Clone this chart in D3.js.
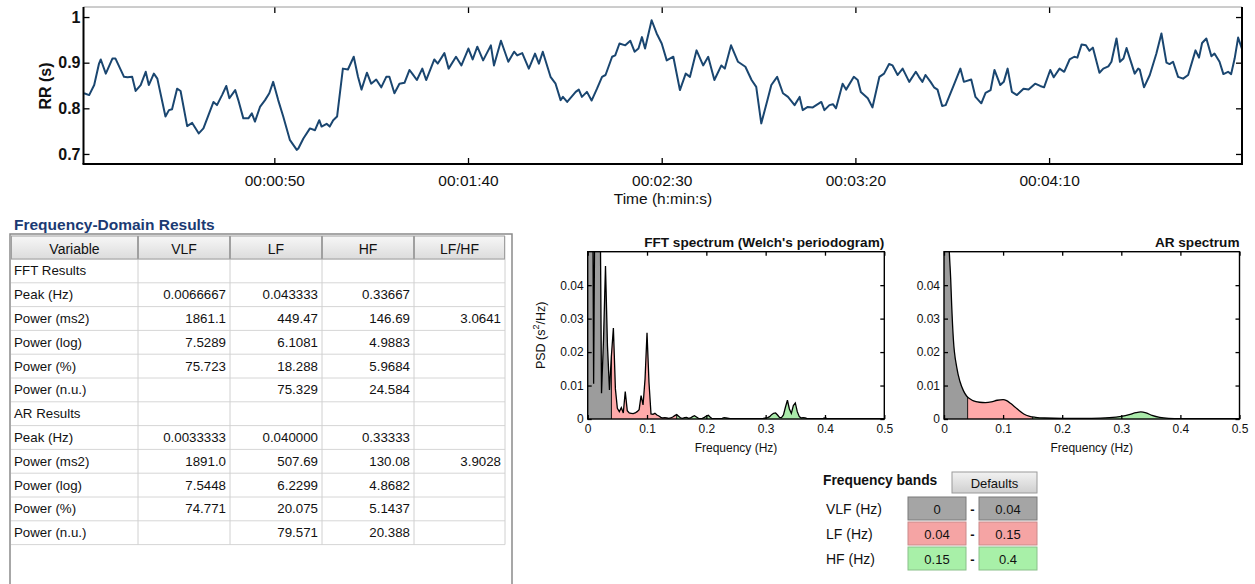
<!DOCTYPE html>
<html><head><meta charset="utf-8">
<script src="https://cdn.jsdelivr.net/npm/d3@7"></script>
<style>body{margin:0;background:#fff;}svg{display:block;}</style>
</head><body><svg id="c" width="1255" height="584"></svg>
<script>
// ---------------- DATA ----------------
const rrTime = [0.9,2.2,3.5,4.75,5.2,6.5,8.2,9.0,11.2,12.1,
13.3,14.2,15.5,16.8,17.6,18.9,19.8,21.9,22.8,23.6,
24.9,25.8,27.5,28.8,30.5,31.7,33.0,34.3,35.2,36.5,
37.6,38.4,39.9,40.7,42.0,43.3,44.2,45.0,46.3,47.6,
48.7,49.7,51.0,52.3,54.0,55.8,56.2,57.5,59.2,60.5,
61.6,62.2,63.5,64.3,65.2,66.2,67.7,69.0,70.5,71.6,
72.5,73.9,75.0,76.3,77.6,78.9,79.7,81.0,82.3,83.6,
84.9,85.7,86.8,88.2,89.2,91.3,92.2,93.9,95.0,96.9,
98.3,100.1,101.2,102.4,103.9,105.9,106.7,108.5,110.4,111.9,
112.7,114.0,115.7,117.3,118.3,119.3,121.3,122.6,123.9,124.5,
125.6,127.8,128.6,129.4,130.7,131.9,133.3,134.6,135.5,137.2,
138.0,139.1,140.6,141.9,143.0,144.0,144.9,145.7,147.4,148.7,
150.0,151.3,153.0,154.7,156.2,157.3,159.0,160.7,162.0,163.6,
165.4,166.3,167.9,169.7,171.6,173.2,174.4,175.7,177.3,178.3,
179.8,181.3,182.6,184.3,185.6,186.4,187.7,189.0,191.2,192.0,
193.3,194.2,195.0,196.7,197.6,199.6,200.6,201.4,203.2,204.4,
206.2,207.4,208.7,209.6,210.9,212.2,213.9,215.6,216.4,217.3,
218.1,219.4,220.3,221.2,222.4,223.3,225.4,227.1,228.0,229.9,
231.0,232.5,233.6,234.9,235.9,237.4,238.3,239.3,240.4,241.7,
243.4,244.7,246.4,247.7,248.7,250.3,251.2,252.7,253.9,255.3,
256.5,257.3,258.4,259.5,260.4,261.3,263.0,264.0,265.3,266.1,
267.4,268.3,269.2,270.0,272.1,273.0,273.4,274.5,276.0,277.7,
279.0,280.3,281.1,282.0,283.3,284.6,285.9,287.8,288.7,289.5,
290.6,291.9,292.7,294.0,295.0,296.2,297.0,297.9,298.8,299.8];
const rrValue = [0.833,0.829,0.851,0.898,0.907,0.876,0.909,0.909,0.869,0.868,
0.869,0.838,0.851,0.880,0.851,0.876,0.865,0.782,0.796,0.798,
0.843,0.838,0.761,0.768,0.745,0.756,0.785,0.814,0.807,0.829,
0.849,0.822,0.840,0.818,0.778,0.778,0.789,0.771,0.803,0.818,
0.833,0.858,0.818,0.782,0.731,0.709,0.712,0.734,0.756,0.752,
0.774,0.760,0.766,0.760,0.774,0.782,0.887,0.885,0.913,0.869,
0.841,0.878,0.854,0.863,0.846,0.869,0.869,0.833,0.854,0.856,
0.884,0.875,0.862,0.887,0.862,0.907,0.898,0.921,0.887,0.913,
0.894,0.931,0.907,0.935,0.905,0.938,0.894,0.948,0.902,0.924,
0.916,0.921,0.887,0.920,0.898,0.924,0.869,0.854,0.818,0.825,
0.814,0.836,0.841,0.825,0.836,0.817,0.843,0.869,0.873,0.913,
0.916,0.942,0.938,0.948,0.924,0.931,0.956,0.931,0.993,0.964,
0.942,0.905,0.913,0.840,0.876,0.869,0.927,0.894,0.913,0.862,
0.894,0.887,0.938,0.902,0.891,0.862,0.847,0.767,0.818,0.851,
0.869,0.833,0.825,0.807,0.825,0.796,0.803,0.802,0.814,0.796,
0.807,0.809,0.800,0.854,0.841,0.869,0.862,0.836,0.822,0.802,
0.869,0.876,0.897,0.894,0.873,0.887,0.858,0.880,0.869,0.858,
0.873,0.858,0.846,0.841,0.805,0.807,0.851,0.887,0.858,0.863,
0.825,0.811,0.834,0.840,0.884,0.851,0.858,0.887,0.836,0.829,
0.843,0.841,0.854,0.849,0.846,0.884,0.868,0.887,0.880,0.907,
0.913,0.911,0.940,0.938,0.926,0.933,0.878,0.887,0.892,0.902,
0.953,0.902,0.909,0.932,0.876,0.887,0.885,0.846,0.873,0.920,
0.964,0.900,0.897,0.902,0.869,0.865,0.873,0.927,0.911,0.943,
0.953,0.914,0.920,0.902,0.875,0.880,0.875,0.909,0.955,0.930];
const timeTicks = [50, 100, 150, 200, 250];
const rrTicks = [0.7, 0.8, 0.9, 1];

const fftFreq = [0,0.0033,0.0067,0.01,0.0133,0.0167,0.02,0.0233,0.0267,0.03,
0.0333,0.0367,0.04,0.0433,0.0467,0.05,0.0533,0.0567,0.06,0.0633,
0.0667,0.07,0.0733,0.0767,0.08,0.0833,0.0867,0.09,0.0933,0.0967,
0.1,0.1033,0.1067,0.11,0.1133,0.1167,0.12,0.1233,0.1267,0.13,
0.1333,0.1367,0.14,0.1433,0.1467,0.15,0.1533,0.1567,0.16,0.1633,
0.1667,0.17,0.1733,0.1767,0.18,0.1833,0.1867,0.19,0.1933,0.1967,
0.2,0.2033,0.2067,0.21,0.22,0.2267,0.23,0.2333,0.24,0.25,
0.26,0.27,0.28,0.29,0.2967,0.3,0.3033,0.3067,0.31,0.3133,
0.3167,0.32,0.3233,0.3267,0.33,0.3333,0.3367,0.34,0.3433,0.3467,
0.35,0.3533,0.3567,0.36,0.3633,0.3667,0.37,0.38,0.39,0.3967,
0.4,0.4033,0.41,0.42,0.44,0.46,0.48,0.5];
const fftPsd = [0.09,0.12,0.14,0.0105,0.10,0.11,0.09,0.0077,0.024,0.0457,
0.022,0.0087,0.019,0.0272,0.009,0.0032,0.0022,0.0034,0.0018,0.0082,
0.0025,0.0018,0.0017,0.0016,0.0018,0.0022,0.0028,0.0070,0.0042,0.012,
0.0258,0.011,0.0015,0.0014,0.0017,0.0012,0.0009,0.0005,0.0003,0.0004,
0.0003,0.0002,0.0003,0.0006,0.0010,0.0013,0.0008,0.0003,0.0002,0.0004,
0.0005,0.0002,0.0003,0.0007,0.0010,0.0006,0.0002,0.0001,0.0002,0.0005,
0.0009,0.0011,0.0005,0.0001,0.0001,0.0002,0.0004,0.0003,0.0001,0.0001,
0.0001,0.0001,0.0001,0.0001,0.0002,0.0003,0.0004,0.0007,0.0013,0.0017,
0.0018,0.0012,0.0005,0.0004,0.0012,0.0035,0.0056,0.0030,0.0017,0.0040,
0.0048,0.0022,0.0007,0.0003,0.0004,0.0003,0.0001,0.0001,0.0001,0.0002,
0.0003,0.0002,0.0001,0.0001,0.0001,0.0001,0.0001,0.0001];

const arFreq = [0,0.005,0.009,0.0113,0.013,0.0158,0.0215,0.027,0.033,0.0385,
0.045,0.05,0.06,0.07,0.08,0.09,0.1,0.106,0.113,0.12,
0.1275,0.135,0.145,0.155,0.17,0.2,0.25,0.28,0.3,0.315,
0.325,0.333,0.342,0.352,0.365,0.38,0.4,0.45,0.5];
const arPsd = [0.12,0.075,0.05,0.042,0.034,0.024,0.0155,0.0112,0.0084,0.0068,
0.0059,0.0054,0.0050,0.0049,0.0051,0.0056,0.0058,0.0055,0.0046,0.0036,
0.0025,0.0015,0.0008,0.0005,0.0003,0.0002,0.0002,0.0004,0.0008,0.0014,
0.0019,0.0021,0.0018,0.0011,0.0005,0.0002,0.0001,0.0001,0.0001];

const psdTicks = [0, 0.01, 0.02, 0.03, 0.04];
const freqTicks = [0, 0.1, 0.2, 0.3, 0.4, 0.5];
const bandNames = ["VLF", "LF", "HF"];
const bandLow = [0, 0.04, 0.15];
const bandHigh = [0.04, 0.15, 0.4];
const bandLabels = ["VLF (Hz)", "LF (Hz)", "HF (Hz)"];
const bandLowText = ["0", "0.04", "0.15"];
const bandHighText = ["0.04", "0.15", "0.4"];

const tableHeaders = ["Variable", "VLF", "LF", "HF", "LF/HF"];
const rowLabels = ["FFT Results","Peak (Hz)","Power (ms2)","Power (log)","Power (%)","Power (n.u.)",
                   "AR Results","Peak (Hz)","Power (ms2)","Power (log)","Power (%)","Power (n.u.)"];
const vlfCol = ["","0.0066667","1861.1","7.5289","75.723","","","0.0033333","1891.0","7.5448","74.771",""];
const lfCol  = ["","0.043333","449.47","6.1081","18.288","75.329","","0.040000","507.69","6.2299","20.075","79.571"];
const hfCol  = ["","0.33667","146.69","4.9883","5.9684","24.584","","0.33333","130.08","4.8682","5.1437","20.388"];
const ratioCol = ["","","3.0641","","","","","","3.9028","","",""];

// ---------------- DRAW ----------------
const FONT = '"Liberation Sans", Arial, Helvetica, sans-serif';
const svg = d3.select("#c").attr("font-family", FONT);
const defs = svg.append("defs");
const bandFill = ["#9c9c9c", "#ffaaaa", "#aaeaaa"];

function styleAxis(g, size, weight) {
  g.attr("font-family", null).attr("font-size", null);
  g.select(".domain").remove();
  g.selectAll(".tick line").attr("stroke", "#000").attr("stroke-width", 1.3);
  g.selectAll(".tick text").attr("font-family", FONT).attr("font-size", size)
    .attr("font-weight", weight || "normal").attr("fill", "#111");
}

// ---- Top RR tachogram ----
const xT = d3.scaleLinear().domain([0.74, 299.8]).range([83.5, 1242]);
const yT = d3.scaleLinear().domain([0.678, 1.022]).range([164, 7]);
const fmtTime = s => "00:" + String(Math.floor(s / 60)).padStart(2, "0") + ":" + String(s % 60).padStart(2, "0");
defs.append("clipPath").attr("id", "topclip").append("rect")
  .attr("x", 83.5).attr("y", 7).attr("width", 1242 - 83.5).attr("height", 157);
const gTop = svg.append("g");
gTop.append("path").datum(d3.range(rrTime.length))
  .attr("d", d3.line().x(i => xT(rrTime[i])).y(i => yT(rrValue[i])))
  .attr("clip-path", "url(#topclip)")
  .attr("fill", "none").attr("stroke", "#1a4670").attr("stroke-width", 2).attr("stroke-linejoin", "round");

styleAxis(gTop.append("g").attr("transform", "translate(0,164)")
  .call(d3.axisBottom(xT).tickValues(timeTicks).tickSize(-6).tickPadding(11).tickFormat(fmtTime)), 15.5);
styleAxis(gTop.append("g").attr("transform", "translate(0,7)")
  .call(d3.axisTop(xT).tickValues(timeTicks).tickSize(-6).tickFormat("")), 10);
styleAxis(gTop.append("g").attr("transform", "translate(83.5,0)")
  .call(d3.axisLeft(yT).tickValues(rrTicks).tickSize(-6).tickPadding(3).tickFormat(d => String(d))), 16, "bold");
styleAxis(gTop.append("g").attr("transform", "translate(1242,0)")
  .call(d3.axisRight(yT).tickValues(rrTicks).tickSize(-6).tickFormat("")), 10);
gTop.append("line").attr("x1", 83.5).attr("x2", 1242).attr("y1", 7).attr("y2", 7).attr("stroke", "#9a9a9a").attr("stroke-width", 1);
gTop.append("line").attr("x1", 83.5).attr("x2", 83.5).attr("y1", 7).attr("y2", 164).attr("stroke", "#000").attr("stroke-width", 2);
gTop.append("line").attr("x1", 1242).attr("x2", 1242).attr("y1", 7).attr("y2", 164).attr("stroke", "#000").attr("stroke-width", 2);
gTop.append("line").attr("x1", 82.5).attr("x2", 1243).attr("y1", 164).attr("y2", 164).attr("stroke", "#000").attr("stroke-width", 2);
gTop.append("text").attr("transform", "translate(45,86) rotate(-90)").attr("text-anchor", "middle")
  .attr("dominant-baseline", "central").attr("font-size", 16).attr("font-weight", "bold").attr("fill", "#111").text("RR (s)");
gTop.append("text").attr("x", 663).attr("y", 204).attr("text-anchor", "middle")
  .attr("font-size", 15.5).attr("fill", "#111").text("Time (h:min:s)");

// ---- Spectra ----
function interp(freq, psd, f) {
  for (let i = 1; i < freq.length; i++) {
    if (freq[i] >= f) {
      const t = (f - freq[i - 1]) / (freq[i] - freq[i - 1]);
      return psd[i - 1] + t * (psd[i] - psd[i - 1]);
    }
  }
  return psd[psd.length - 1];
}
function spectrum(o) {
  const xs = d3.scaleLinear().domain([0, 0.5]).range([o.x0, o.x1]);
  const ys = d3.scaleLinear().domain([0, 0.05]).range([o.y1, o.y0]);
  const g = svg.append("g");
  defs.append("clipPath").attr("id", o.id + "box").append("rect")
    .attr("x", o.x0).attr("y", o.y0).attr("width", o.x1 - o.x0).attr("height", o.y1 - o.y0);
  bandNames.forEach((b, i) => {
    defs.append("clipPath").attr("id", o.id + b).append("rect")
      .attr("x", xs(bandLow[i])).attr("y", o.y0)
      .attr("width", xs(bandHigh[i]) - xs(bandLow[i])).attr("height", o.y1 - o.y0);
  });
  const idx = d3.range(o.freq.length);
  const area = d3.area().x(i => xs(o.freq[i])).y0(o.y1).y1(i => ys(o.psd[i])).curve(o.curve);
  const line = d3.line().x(i => xs(o.freq[i])).y(i => ys(o.psd[i])).curve(o.curve);
  bandNames.forEach((b, i) => {
    g.append("path").datum(idx).attr("d", area).attr("fill", bandFill[i]).attr("clip-path", `url(#${o.id}${b})`);
  });
  const gb = g.append("g").attr("clip-path", `url(#${o.id}box)`);
  [0.04, 0.15, 0.4].forEach(f => {
    gb.append("line").attr("x1", xs(f)).attr("x2", xs(f)).attr("y1", o.y1)
      .attr("y2", ys(interp(o.freq, o.psd, f))).attr("stroke", "#000").attr("stroke-width", 0.9);
  });
  gb.append("path").datum(idx).attr("d", line).attr("fill", "none").attr("stroke", "#000").attr("stroke-width", 1.3);

  styleAxis(g.append("g").attr("transform", `translate(0,${o.y1})`)
    .call(d3.axisBottom(xs).tickValues(freqTicks).tickSize(-4).tickPadding(5).tickFormat(d => String(d))), 12);
  styleAxis(g.append("g").attr("transform", `translate(0,${o.y0})`)
    .call(d3.axisTop(xs).tickValues(freqTicks).tickSize(-4).tickFormat("")), 10);
  styleAxis(g.append("g").attr("transform", `translate(${o.x0},0)`)
    .call(d3.axisLeft(ys).tickValues(psdTicks).tickSize(-4).tickPadding(4).tickFormat(d => String(d))), 12);
  styleAxis(g.append("g").attr("transform", `translate(${o.x1},0)`)
    .call(d3.axisRight(ys).tickValues(psdTicks).tickSize(-4).tickFormat("")), 10);
  g.append("rect").attr("x", o.x0).attr("y", o.y0).attr("width", o.x1 - o.x0).attr("height", o.y1 - o.y0)
    .attr("fill", "none").attr("stroke", "#000").attr("stroke-width", 1.4);
  g.append("text").attr("x", o.x1).attr("y", o.y0 - 5).attr("text-anchor", "end")
    .attr("font-size", 13.6).attr("font-weight", "bold").attr("fill", "#111").text(o.title);
  g.append("text").attr("x", (o.x0 + o.x1) / 2).attr("y", o.y1 + 33).attr("text-anchor", "middle")
    .attr("font-size", 12).attr("fill", "#111").text("Frequency (Hz)");
  if (o.ylab) {
    const t = g.append("text").attr("transform", `translate(${o.x0 - 47},${(o.y0 + o.y1) / 2}) rotate(-90)`)
      .attr("text-anchor", "middle").attr("dominant-baseline", "central").attr("font-size", 12.5).attr("fill", "#111");
    t.append("tspan").text("PSD (s");
    t.append("tspan").attr("font-size", 9).attr("dy", -5).text("2");
    t.append("tspan").attr("dy", 5).text("/Hz)");
  }
}
spectrum({id: "fft", x0: 587.7, x1: 884.3, y0: 251.7, y1: 419, freq: fftFreq, psd: fftPsd,
  curve: d3.curveLinear, title: "FFT spectrum (Welch's periodogram)", ylab: true});
spectrum({id: "ar", x0: 944, x1: 1239.5, y0: 251.7, y1: 419, freq: arFreq, psd: arPsd,
  curve: d3.curveMonotoneX, title: "AR spectrum", ylab: false});

// ---- Frequency bands widget ----
const btnGrad = defs.append("linearGradient").attr("id", "btn").attr("x1", 0).attr("x2", 0).attr("y1", 0).attr("y2", 1);
btnGrad.append("stop").attr("offset", "0%").attr("stop-color", "#f2f2f2");
btnGrad.append("stop").attr("offset", "100%").attr("stop-color", "#cfcfcf");
const gw = svg.append("g");
gw.append("text").attr("x", 823).attr("y", 485).attr("font-size", 13.8).attr("font-weight", "bold").attr("fill", "#111").text("Frequency bands");
gw.append("rect").attr("x", 952).attr("y", 472).attr("width", 85).attr("height", 21)
  .attr("fill", "url(#btn)").attr("stroke", "#9a9a9a");
gw.append("text").attr("x", 994.5).attr("y", 483).attr("text-anchor", "middle").attr("dominant-baseline", "central")
  .attr("font-size", 13).attr("fill", "#111").text("Defaults");
const boxFill = ["#a5a5a5", "#f5a4a4", "#a8f0a8"];
const boxStroke = ["#7a7a7a", "#c98a8a", "#8ac08a"];
const rowY = [497, 522, 547];
bandNames.forEach((b, i) => {
  const cy = rowY[i] + 12;
  gw.append("text").attr("x", 826).attr("y", cy).attr("dominant-baseline", "central")
    .attr("font-size", 14).attr("fill", "#111").text(bandLabels[i]);
  [[908, bandLowText[i]], [979, bandHighText[i]]].forEach(([bx, txt]) => {
    gw.append("rect").attr("x", bx).attr("y", rowY[i]).attr("width", 58).attr("height", 23)
      .attr("fill", boxFill[i]).attr("stroke", boxStroke[i]);
    gw.append("text").attr("x", bx + 29).attr("y", cy).attr("text-anchor", "middle").attr("dominant-baseline", "central")
      .attr("font-size", 13).attr("fill", "#111").text(txt);
  });
  gw.append("text").attr("x", 972.5).attr("y", cy).attr("text-anchor", "middle").attr("dominant-baseline", "central")
    .attr("font-size", 13).attr("font-weight", "bold").attr("fill", "#111").text("-");
});

// ---- Results table ----
const hdrGrad = defs.append("linearGradient").attr("id", "hdr").attr("x1", 0).attr("x2", 0).attr("y1", 0).attr("y2", 1);
hdrGrad.append("stop").attr("offset", "0%").attr("stop-color", "#f7f7f7");
hdrGrad.append("stop").attr("offset", "100%").attr("stop-color", "#dcdcdc");
const gt = svg.append("g");
gt.append("text").attr("x", 14).attr("y", 230).attr("font-size", 15.5).attr("font-weight", "bold")
  .attr("fill", "#1b3a73").text("Frequency-Domain Results");
const colX = [11, 138, 230, 322, 414, 505];
const headTop = 236, headH = 23, rowH = 23.8;
const rowTop = headTop + headH;
const nRows = rowLabels.length;
const cols = [rowLabels, vlfCol, lfCol, hfCol, ratioCol];
gt.append("rect").attr("x", 10).attr("y", 234).attr("width", 502).attr("height", 370)
  .attr("fill", "#fff").attr("stroke", "#8a8a8a").attr("stroke-width", 1.5);
for (let r = 0; r <= nRows; r++) {
  gt.append("line").attr("x1", colX[0]).attr("x2", colX[5]).attr("y1", rowTop + r * rowH).attr("y2", rowTop + r * rowH)
    .attr("stroke", "#d6d6d6");
}
colX.forEach((cx, i) => {
  if (i === 0) return;
  gt.append("line").attr("x1", cx).attr("x2", cx).attr("y1", headTop).attr("y2", rowTop + nRows * rowH)
    .attr("stroke", "#d0d0d0");
});
tableHeaders.forEach((h, i) => {
  gt.append("rect").attr("x", colX[i] + 0.5).attr("y", headTop).attr("width", colX[i + 1] - colX[i] - 1).attr("height", headH)
    .attr("fill", "url(#hdr)").attr("stroke", "#a0a0a0");
  gt.append("text").attr("x", (colX[i] + colX[i + 1]) / 2).attr("y", headTop + headH / 2 + 1)
    .attr("text-anchor", "middle").attr("dominant-baseline", "central").attr("font-size", 14).attr("fill", "#111").text(h);
});
cols.forEach((col, c) => {
  col.forEach((v, r) => {
    if (!v) return;
    const cy = rowTop + r * rowH + rowH / 2;
    gt.append("text").attr("x", c === 0 ? colX[0] + 3 : colX[c + 1] - 4).attr("y", cy)
      .attr("text-anchor", c === 0 ? "start" : "end").attr("dominant-baseline", "central")
      .attr("font-size", 13.3).attr("fill", "#111").text(v);
  });
});
</script></body></html>
